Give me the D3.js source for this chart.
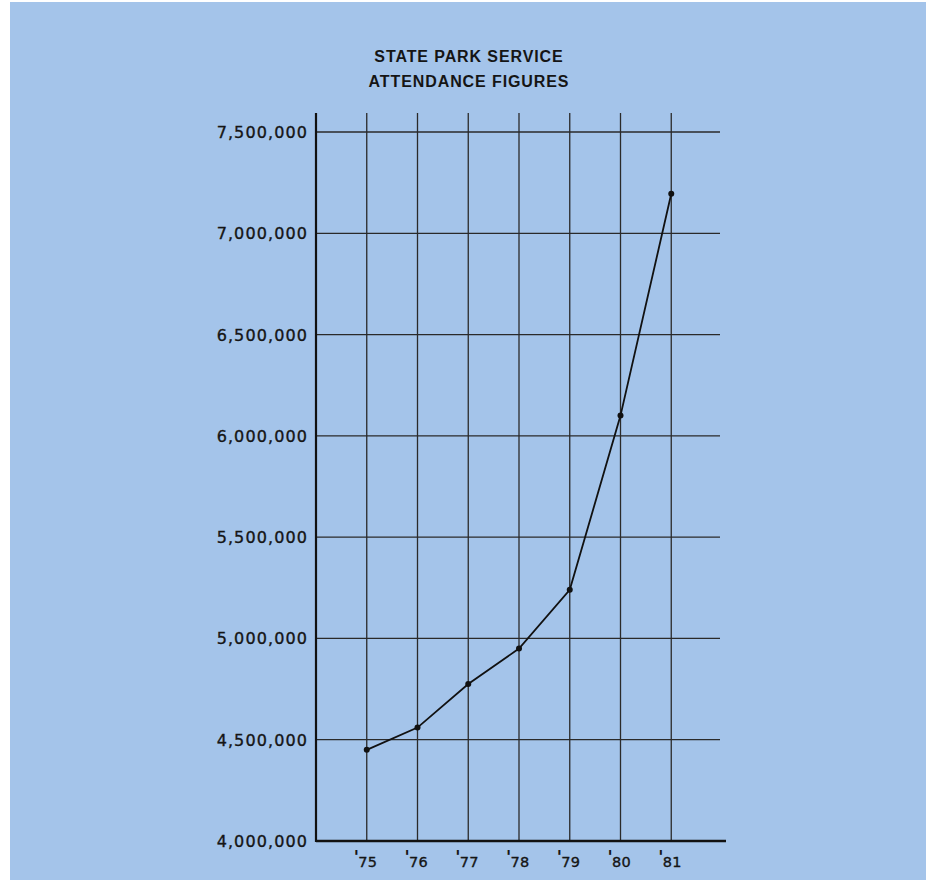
<!DOCTYPE html>
<meta charset="utf-8">
<script src="https://d3js.org/d3.v7.min.js"></script>
<style>
  body { margin: 0; background: #fff; }
  text { font-family: "DejaVu Sans", sans-serif; fill: #151515; }
</style>
<svg width="929" height="880"></svg>
<script>

// data
const years = [75, 76, 77, 78, 79, 80, 81];
const attendance = [4450000, 4560000, 4775000, 4950000, 5240000, 6100000, 7195000];
const yTicks = [4000000, 4500000, 5000000, 5500000, 6000000, 6500000, 7000000, 7500000];
const titleLines = ["STATE PARK SERVICE", "ATTENDANCE FIGURES"];

var svg = d3.select("svg");

// blue paper
svg.append("rect")
    .attr("x", 10).attr("y", 2)
    .attr("width", 916).attr("height", 878)
    .attr("fill", "#a4c4ea");

var x = d3.scaleLinear()
    .domain([74, 82])
    .range([316, 722]);

var y = d3.scaleLinear()
    .domain([4000000, 7500000])
    .range([841, 132]);

var gridTop = 113;

// horizontal grid lines
svg.append("g")
  .selectAll("line")
  .data(yTicks.slice(1))
  .enter()
  .append("line")
    .attr("x1", x(74))
    .attr("x2", 720)
    .attr("y1", function (d) { return y(d); })
    .attr("y2", function (d) { return y(d); })
    .attr("stroke", "#2a2a2a")
    .attr("stroke-width", 1.3);

// vertical grid lines
svg.append("g")
  .selectAll("line")
  .data(years)
  .enter()
  .append("line")
    .attr("x1", function (d) { return x(d); })
    .attr("x2", function (d) { return x(d); })
    .attr("y1", gridTop)
    .attr("y2", y(4000000))
    .attr("stroke", "#2a2a2a")
    .attr("stroke-width", 1.3);

// axes
svg.append("line")
    .attr("x1", x(74)).attr("x2", x(74))
    .attr("y1", gridTop).attr("y2", y(4000000) + 1)
    .attr("stroke", "#111")
    .attr("stroke-width", 2.2);

svg.append("line")
    .attr("x1", x(74)).attr("x2", 726)
    .attr("y1", y(4000000)).attr("y2", y(4000000))
    .attr("stroke", "#111")
    .attr("stroke-width", 2.4);

// y labels
svg.append("g")
  .selectAll("text")
  .data(yTicks)
  .enter()
  .append("text")
    .attr("x", 308)
    .attr("y", function (d) { return y(d) + 6; })
    .attr("text-anchor", "end")
    .style("font-size", "16px")
    .style("letter-spacing", "1.1px")
    .style("stroke", "#151515")
    .style("stroke-width", 0.35)
    .text(function (d) { return d3.format(",")(d); });

// x labels: digits, then the raised apostrophe
var xl = svg.append("g");

xl.selectAll("text.yr")
  .data(years)
  .enter()
  .append("text")
    .attr("class", "yr")
    .attr("x", function (d) { return x(d) + 1; })
    .attr("y", 867)
    .attr("text-anchor", "middle")
    .style("font-size", "14.5px")
    .style("letter-spacing", "0.3px")
    .style("stroke", "#151515")
    .style("stroke-width", 0.35)
    .text(function (d) { return d; });

xl.selectAll("text.ap")
  .data(years)
  .enter()
  .append("text")
    .attr("class", "ap")
    .attr("x", function (d) { return x(d) - 13; })
    .attr("y", 863)
    .style("font-size", "17px")
    .style("font-weight", "bold")
    .text("'");

// title
svg.append("g")
  .selectAll("text")
  .data(titleLines)
  .enter()
  .append("text")
    .attr("x", 469)
    .attr("y", function (d, i) { return 62 + i * 25; })
    .attr("text-anchor", "middle")
    .style("font-family", "'Liberation Sans', Arial, sans-serif")
    .style("font-size", "16px")
    .style("font-weight", "bold")
    .style("letter-spacing", "0.9px")
    .text(function (d) { return d; });

// the line
var pts = years.map(function (d, i) { return [d, attendance[i]]; });

svg.append("path")
    .datum(pts)
    .attr("fill", "none")
    .attr("stroke", "#111")
    .attr("stroke-width", 1.8)
    .attr("d", d3.line()
      .x(function (d) { return x(d[0]); })
      .y(function (d) { return y(d[1]); }));

svg.append("g")
  .selectAll("circle")
  .data(pts)
  .enter()
  .append("circle")
    .attr("cx", function (d) { return x(d[0]); })
    .attr("cy", function (d) { return y(d[1]); })
    .attr("r", 3)
    .attr("fill", "#111");

</script>
